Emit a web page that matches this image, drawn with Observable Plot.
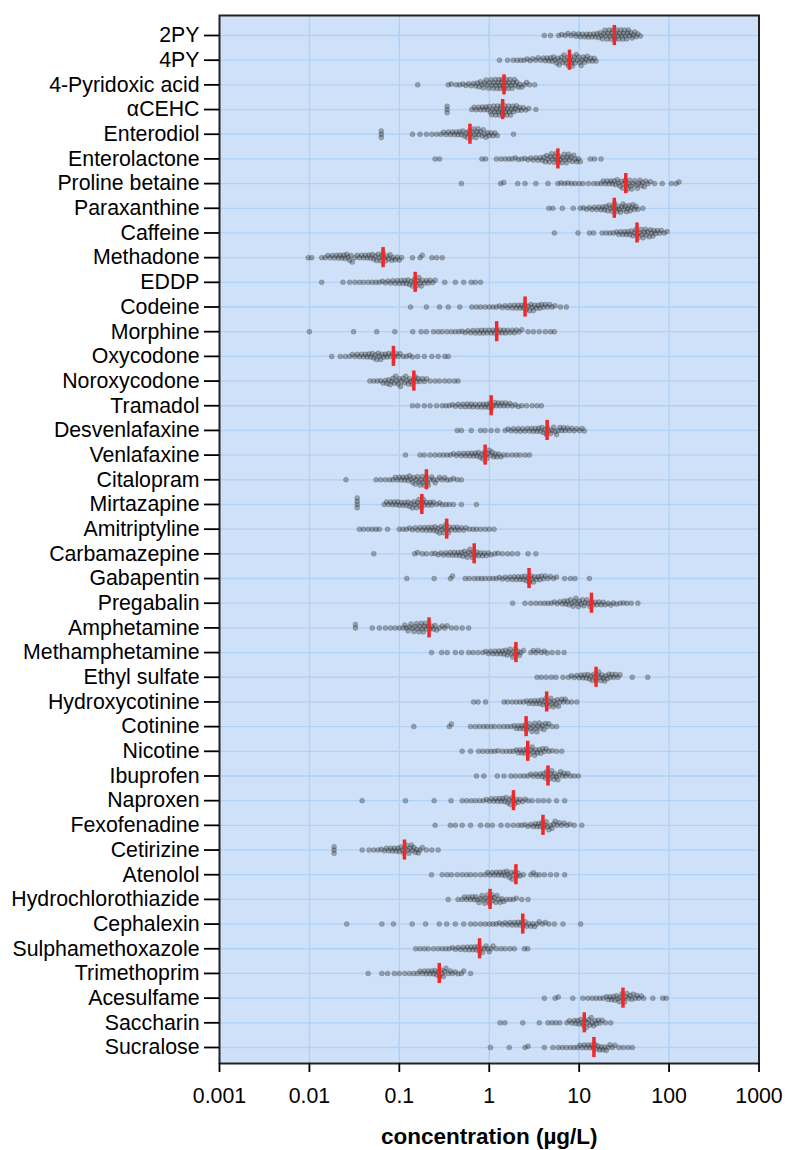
<!DOCTYPE html>
<html>
<head>
<meta charset="utf-8">
<script src="https://cdn.jsdelivr.net/npm/d3@7"></script>
<script src="https://cdn.jsdelivr.net/npm/@observablehq/plot@0.6"></script>
<style>
  html, body { margin: 0; padding: 0; background: #fff; }
  #chart svg { display: block; }
</style>
</head>
<body>
<div id="chart"></div>
<script>
const categories = ["2PY","4PY","4-Pyridoxic acid","αCEHC","Enterodiol","Enterolactone","Proline betaine","Paraxanthine","Caffeine","Methadone","EDDP","Codeine","Morphine","Oxycodone","Noroxycodone","Tramadol","Desvenlafaxine","Venlafaxine","Citalopram","Mirtazapine","Amitriptyline","Carbamazepine","Gabapentin","Pregabalin","Amphetamine","Methamphetamine","Ethyl sulfate","Hydroxycotinine","Cotinine","Nicotine","Ibuprofen","Naproxen","Fexofenadine","Cetirizine","Atenolol","Hydrochlorothiazide","Cephalexin","Sulphamethoxazole","Trimethoprim","Acesulfame","Saccharin","Sucralose"];

const medians = [24.6, 7.8, 1.46, 1.41, 0.61, 5.8, 33, 24.6, 44, 0.066, 0.15, 2.5, 1.21, 0.086, 0.145, 1.05, 4.4, 0.9, 0.2, 0.178, 0.336, 0.68, 2.77, 13.7, 0.214, 1.98, 15.4, 4.35, 2.57, 2.68, 4.5, 1.86, 3.96, 0.114, 1.98, 1.02, 2.36, 0.78, 0.278, 30.7, 11.4, 14.6];

const xTicks = [0.001, 0.01, 0.1, 1, 10, 100, 1000];
const xTickLabels = ["0.001", "0.01", "0.1", "1", "10", "100", "1000"];

const v2PY = [4.1, 4.8, 5.9, 6.4, 7.0, 7.5, 8.1, 8.7, 9.2, 9.8, 10.3, 10.9, 11.5, 12.1, 12.6, 13.2, 13.9, 14.5, 15.2, 15.8, 16.5, 17.1, 17.7, 18.2, 18.8, 19.3, 19.9, 20.4, 21, 21.5, 22.1, 22.6, 23.2, 23.8, 24.4, 25, 25.6, 26.2, 26.9, 27.6, 28.3, 29, 29.7, 30.4, 31.2, 32, 32.8, 33.6, 34.5, 35.4, 36.4, 37.5, 38.7, 40, 41.5, 43, 45, 48];
const v4PY = [1.3, 1.6, 1.85, 2.05, 2.25, 2.45, 2.65, 2.85, 3.05, 3.3, 3.5, 3.75, 4.0, 4.2, 4.4, 4.6, 4.8, 5.0, 5.2, 5.4, 5.6, 5.8, 6.0, 6.2, 6.4, 6.6, 6.8, 7.0, 7.2, 7.4, 7.6, 7.8, 8.0, 8.2, 8.4, 8.6, 8.8, 9.0, 9.3, 9.6, 9.9, 10.2, 10.5, 10.8, 11.1, 11.5, 11.9, 12.3, 12.8, 13.4, 14, 14.7, 15.4];
const vPyridoxic = [0.16, 0.35, 0.38, 0.43, 0.47, 0.51, 0.55, 0.59, 0.63, 0.67, 0.71, 0.74, 0.77, 0.8, 0.83, 0.86, 0.89, 0.92, 0.95, 0.98, 1.01, 1.04, 1.07, 1.1, 1.13, 1.16, 1.19, 1.22, 1.25, 1.28, 1.31, 1.34, 1.37, 1.4, 1.43, 1.46, 1.5, 1.54, 1.58, 1.62, 1.66, 1.7, 1.75, 1.8, 1.85, 1.9, 1.96, 2.02, 2.1, 2.2, 2.3, 2.45, 2.6, 2.8, 3.2];
const vCEHC = [0.34, 0.34, 0.34, 0.64, 0.68, 0.72, 0.76, 0.8, 0.84, 0.88, 0.92, 0.96, 1.0, 1.03, 1.06, 1.09, 1.12, 1.15, 1.18, 1.21, 1.24, 1.27, 1.3, 1.33, 1.36, 1.39, 1.42, 1.45, 1.48, 1.52, 1.56, 1.6, 1.64, 1.68, 1.72, 1.77, 1.82, 1.87, 1.93, 2.0, 2.08, 2.17, 2.27, 2.4, 2.55, 2.75, 3.3];
const vEnterodiol = [0.063, 0.063, 0.063, 0.14, 0.17, 0.2, 0.23, 0.26, 0.29, 0.31, 0.33, 0.35, 0.37, 0.39, 0.41, 0.43, 0.45, 0.47, 0.49, 0.51, 0.53, 0.55, 0.57, 0.59, 0.61, 0.63, 0.65, 0.67, 0.69, 0.71, 0.73, 0.75, 0.77, 0.8, 0.83, 0.86, 0.89, 0.92, 0.96, 1.0, 1.05, 1.1, 1.16, 1.23, 1.86];
const vEnterolactone = [0.25, 0.28, 0.83, 0.91, 1.2, 1.35, 1.5, 1.65, 1.8, 1.95, 2.1, 2.3, 2.5, 2.7, 2.9, 3.1, 3.3, 3.5, 3.7, 3.9, 4.05, 4.2, 4.35, 4.5, 4.65, 4.8, 4.95, 5.1, 5.25, 5.4, 5.55, 5.7, 5.85, 6.0, 6.2, 6.4, 6.6, 6.8, 7.0, 7.2, 7.4, 7.6, 7.8, 8.1, 8.4, 8.7, 9.0, 9.4, 9.8, 10.3, 13.3, 14.8, 17.5];
const vProline = [0.49, 1.34, 1.45, 2.07, 2.5, 3.3, 4.5, 5.8, 6.3, 6.9, 7.5, 8.2, 9, 10, 11, 12.7, 14.5, 16, 17.5, 18.5, 19.5, 20.5, 21.5, 22.5, 23.5, 24.5, 25.5, 26.5, 27.5, 28.5, 29.5, 30.5, 31.5, 32.5, 33.5, 34.5, 35.5, 36.5, 37.5, 38.5, 40, 41.5, 43, 44.5, 46, 47.5, 49, 51, 53, 55, 58, 62, 69, 84, 106, 120, 129];
const vParaxanthine = [4.6, 5.1, 6.5, 8.6, 10.3, 11.2, 12.1, 13, 13.9, 14.8, 15.7, 16.6, 17.5, 18.3, 19.1, 19.9, 20.7, 21.5, 22.3, 23.1, 23.9, 24.7, 25.5, 26.3, 27.1, 28, 28.9, 29.8, 30.7, 31.6, 32.6, 33.6, 34.7, 35.8, 37, 38.3, 39.7, 41.2, 43, 45, 51];
const vCaffeine = [5.3, 9.7, 13, 14.5, 18, 20, 22, 24, 26, 27.5, 29, 30.5, 32, 33.5, 35, 36.5, 38, 39.5, 41, 42.5, 44, 45.5, 47, 48.5, 50, 51.5, 53, 54.5, 56, 58, 60, 62, 64, 66, 68, 71, 74, 78, 82, 88, 95];
const vMethadone = [0.0097, 0.0106, 0.0137, 0.015, 0.016, 0.017, 0.018, 0.019, 0.02, 0.021, 0.022, 0.023, 0.024, 0.025, 0.026, 0.027, 0.028, 0.029, 0.03, 0.032, 0.034, 0.036, 0.038, 0.04, 0.042, 0.044, 0.046, 0.048, 0.05, 0.052, 0.054, 0.056, 0.058, 0.06, 0.062, 0.064, 0.066, 0.068, 0.07, 0.073, 0.076, 0.079, 0.082, 0.085, 0.09, 0.095, 0.1, 0.106, 0.14, 0.17, 0.18, 0.23, 0.26, 0.3];
const vEDDP = [0.0137, 0.0236, 0.028, 0.032, 0.036, 0.04, 0.045, 0.05, 0.055, 0.06, 0.065, 0.07, 0.075, 0.08, 0.085, 0.09, 0.095, 0.1, 0.105, 0.11, 0.115, 0.12, 0.125, 0.13, 0.135, 0.14, 0.145, 0.15, 0.155, 0.16, 0.165, 0.17, 0.175, 0.18, 0.19, 0.2, 0.21, 0.22, 0.235, 0.25, 0.32, 0.42, 0.52, 0.63, 0.7, 0.8];
const vCodeine = [0.133, 0.2, 0.28, 0.35, 0.47, 0.64, 0.72, 0.8, 0.9, 1.0, 1.1, 1.2, 1.3, 1.4, 1.5, 1.6, 1.7, 1.8, 1.9, 2.0, 2.1, 2.2, 2.3, 2.4, 2.5, 2.6, 2.7, 2.8, 2.9, 3.0, 3.1, 3.2, 3.35, 3.5, 3.65, 3.8, 4.0, 4.2, 4.45, 4.7, 5.0, 5.4, 6.2, 7.2];
const vMorphine = [0.01, 0.031, 0.056, 0.089, 0.141, 0.175, 0.2, 0.24, 0.27, 0.3, 0.34, 0.38, 0.42, 0.46, 0.5, 0.54, 0.58, 0.62, 0.66, 0.7, 0.74, 0.78, 0.82, 0.86, 0.9, 0.95, 1.0, 1.05, 1.1, 1.15, 1.2, 1.26, 1.32, 1.38, 1.45, 1.52, 1.6, 1.7, 1.8, 1.9, 2.0, 2.15, 2.3, 2.7, 3.1, 3.6, 4.2, 4.8, 5.3];
const vOxycodone = [0.0177, 0.022, 0.025, 0.028, 0.03, 0.032, 0.034, 0.036, 0.038, 0.04, 0.042, 0.044, 0.046, 0.048, 0.05, 0.052, 0.054, 0.056, 0.058, 0.06, 0.062, 0.064, 0.067, 0.07, 0.073, 0.076, 0.08, 0.084, 0.088, 0.092, 0.097, 0.102, 0.11, 0.12, 0.13, 0.14, 0.16, 0.19, 0.23, 0.27, 0.32, 0.35];
const vNoroxycodone = [0.047, 0.052, 0.057, 0.062, 0.066, 0.07, 0.073, 0.076, 0.079, 0.082, 0.085, 0.088, 0.091, 0.094, 0.097, 0.1, 0.103, 0.106, 0.11, 0.114, 0.118, 0.122, 0.126, 0.13, 0.135, 0.14, 0.145, 0.15, 0.156, 0.162, 0.17, 0.18, 0.19, 0.2, 0.22, 0.25, 0.28, 0.32, 0.36, 0.41, 0.45];
const vTramadol = [0.14, 0.16, 0.19, 0.22, 0.26, 0.3, 0.33, 0.36, 0.39, 0.42, 0.45, 0.48, 0.51, 0.54, 0.57, 0.6, 0.63, 0.66, 0.7, 0.74, 0.78, 0.82, 0.86, 0.9, 0.94, 0.98, 1.02, 1.06, 1.1, 1.15, 1.2, 1.26, 1.32, 1.38, 1.45, 1.52, 1.6, 1.7, 1.8, 1.95, 2.1, 2.3, 2.6, 3.0, 3.4, 3.8];
const vDesvenlafaxine = [0.44, 0.49, 0.63, 0.8, 0.9, 1.05, 1.23, 1.5, 1.62, 1.74, 1.86, 1.98, 2.1, 2.22, 2.35, 2.5, 2.65, 2.8, 2.95, 3.1, 3.25, 3.4, 3.55, 3.7, 3.85, 4.0, 4.15, 4.3, 4.45, 4.6, 4.8, 5.0, 5.2, 5.4, 5.6, 5.85, 6.1, 6.4, 6.7, 7.0, 7.4, 7.8, 8.3, 8.8, 9.4, 10.1, 10.8, 11.4];
const vVenlafaxine = [0.117, 0.17, 0.19, 0.22, 0.25, 0.28, 0.31, 0.34, 0.37, 0.4, 0.43, 0.46, 0.49, 0.52, 0.55, 0.58, 0.61, 0.64, 0.67, 0.7, 0.73, 0.76, 0.79, 0.82, 0.85, 0.88, 0.91, 0.94, 0.97, 1.0, 1.04, 1.08, 1.12, 1.17, 1.22, 1.28, 1.35, 1.45, 1.6, 1.8, 2.0, 2.2, 2.5, 2.8];
const vCitalopram = [0.0255, 0.055, 0.062, 0.07, 0.078, 0.085, 0.09, 0.095, 0.1, 0.105, 0.11, 0.115, 0.12, 0.125, 0.13, 0.135, 0.14, 0.145, 0.15, 0.155, 0.16, 0.165, 0.17, 0.175, 0.18, 0.185, 0.19, 0.195, 0.2, 0.205, 0.21, 0.22, 0.23, 0.24, 0.25, 0.265, 0.28, 0.3, 0.32, 0.34, 0.37, 0.4, 0.44, 0.49];
const vMirtazapine = [0.034, 0.034, 0.034, 0.034, 0.068, 0.072, 0.076, 0.08, 0.084, 0.088, 0.092, 0.096, 0.1, 0.105, 0.11, 0.115, 0.12, 0.125, 0.13, 0.135, 0.14, 0.145, 0.15, 0.155, 0.16, 0.165, 0.17, 0.175, 0.18, 0.185, 0.19, 0.2, 0.21, 0.22, 0.23, 0.24, 0.26, 0.28, 0.3, 0.33, 0.36, 0.4, 0.49, 0.72];
const vAmitriptyline = [0.036, 0.04, 0.045, 0.05, 0.055, 0.06, 0.074, 0.1, 0.11, 0.12, 0.13, 0.14, 0.15, 0.16, 0.17, 0.18, 0.19, 0.2, 0.21, 0.22, 0.23, 0.24, 0.25, 0.26, 0.27, 0.28, 0.29, 0.3, 0.31, 0.32, 0.33, 0.34, 0.35, 0.36, 0.38, 0.4, 0.42, 0.44, 0.46, 0.49, 0.52, 0.55, 0.6, 0.66, 0.72, 0.8, 0.9, 1.0, 1.13];
const vCarbamazepine = [0.052, 0.148, 0.16, 0.18, 0.2, 0.23, 0.25, 0.27, 0.29, 0.31, 0.33, 0.35, 0.37, 0.39, 0.41, 0.43, 0.45, 0.47, 0.49, 0.51, 0.53, 0.55, 0.57, 0.59, 0.61, 0.63, 0.65, 0.67, 0.7, 0.73, 0.76, 0.8, 0.84, 0.88, 0.93, 0.98, 1.05, 1.15, 1.25, 1.4, 1.6, 1.8, 2.07, 2.7, 3.3];
const vGabapentin = [0.121, 0.244, 0.37, 0.39, 0.54, 0.6, 0.68, 0.75, 0.82, 0.9, 1.0, 1.1, 1.2, 1.3, 1.4, 1.5, 1.6, 1.7, 1.8, 1.9, 2.0, 2.1, 2.2, 2.3, 2.4, 2.5, 2.6, 2.7, 2.8, 2.9, 3.0, 3.1, 3.2, 3.35, 3.5, 3.65, 3.8, 4.0, 4.2, 4.5, 4.8, 5.2, 5.6, 6.9, 8.0, 9.0, 13];
const vPregabalin = [1.82, 2.5, 2.9, 3.3, 3.7, 4.1, 4.5, 4.9, 5.3, 5.7, 6.1, 6.5, 6.8, 7.1, 7.4, 7.7, 8.0, 8.3, 8.6, 8.9, 9.2, 9.5, 9.8, 10.1, 10.5, 10.9, 11.3, 11.7, 12.2, 12.7, 13.2, 13.7, 14.3, 15, 15.8, 16.6, 17.5, 18.5, 19.5, 21, 22.5, 24, 26, 28.5, 31, 34, 38, 45];
const vAmphetamine = [0.0325, 0.0325, 0.05, 0.06, 0.07, 0.08, 0.09, 0.1, 0.11, 0.115, 0.12, 0.125, 0.13, 0.135, 0.14, 0.145, 0.15, 0.155, 0.16, 0.165, 0.17, 0.175, 0.18, 0.185, 0.19, 0.195, 0.2, 0.21, 0.22, 0.23, 0.24, 0.25, 0.26, 0.28, 0.3, 0.32, 0.34, 0.38, 0.43, 0.5, 0.59];
const vMethamphetamine = [0.228, 0.295, 0.34, 0.42, 0.49, 0.59, 0.66, 0.75, 0.85, 0.92, 0.98, 1.04, 1.1, 1.16, 1.22, 1.28, 1.34, 1.4, 1.46, 1.52, 1.58, 1.64, 1.7, 1.76, 1.82, 1.88, 1.94, 2.0, 2.08, 2.16, 2.25, 2.4, 2.9, 3.1, 3.3, 3.5, 3.8, 4.1, 4.4, 5.0, 5.8, 6.8];
const vEthylSulfate = [3.4, 3.8, 4.3, 4.9, 5.5, 6.6, 7.6, 8.2, 8.8, 9.4, 10, 10.5, 11, 11.5, 12, 12.5, 13, 13.5, 14, 14.5, 15, 15.5, 16, 16.5, 17, 17.5, 18, 18.6, 19.2, 19.8, 20.5, 21.3, 22.2, 23.2, 24.3, 25.5, 27, 28.5, 39, 58];
const vHydroxycotinine = [0.67, 0.75, 0.91, 1.46, 1.6, 1.8, 2.0, 2.2, 2.4, 2.6, 2.75, 2.9, 3.05, 3.2, 3.35, 3.5, 3.65, 3.8, 3.95, 4.1, 4.25, 4.4, 4.55, 4.7, 4.85, 5.0, 5.15, 5.3, 5.5, 5.7, 5.9, 6.1, 6.4, 6.7, 7.0, 7.4, 8.2, 9.4];
const vCotinine = [0.145, 0.36, 0.38, 0.62, 0.7, 0.78, 0.87, 0.95, 1.05, 1.15, 1.3, 1.45, 1.6, 1.75, 1.9, 2.0, 2.1, 2.2, 2.3, 2.4, 2.5, 2.6, 2.7, 2.8, 2.9, 3.0, 3.1, 3.2, 3.3, 3.4, 3.5, 3.6, 3.75, 3.9, 4.05, 4.2, 4.4, 4.6, 5.0, 5.6];
const vNicotine = [0.5, 0.62, 0.76, 0.85, 0.95, 1.05, 1.15, 1.25, 1.4, 1.55, 1.7, 1.85, 2.0, 2.1, 2.2, 2.3, 2.4, 2.5, 2.6, 2.7, 2.8, 2.9, 3.0, 3.1, 3.2, 3.3, 3.45, 3.6, 3.75, 3.9, 4.1, 4.3, 4.6, 5.0, 5.6, 6.4];
const vIbuprofen = [0.72, 0.87, 1.23, 1.46, 1.74, 1.95, 2.2, 2.45, 2.7, 2.9, 3.1, 3.3, 3.5, 3.7, 3.9, 4.05, 4.2, 4.35, 4.5, 4.65, 4.8, 4.95, 5.1, 5.25, 5.4, 5.6, 5.8, 6.0, 6.2, 6.5, 6.8, 7.1, 7.5, 8.0, 8.8, 9.8];
const vNaproxen = [0.0386, 0.117, 0.244, 0.376, 0.5, 0.56, 0.63, 0.7, 0.78, 0.86, 0.93, 1.0, 1.06, 1.12, 1.18, 1.24, 1.3, 1.36, 1.42, 1.48, 1.54, 1.6, 1.66, 1.72, 1.78, 1.85, 1.92, 2.0, 2.1, 2.2, 2.35, 2.5, 2.7, 3.0, 3.5, 4.0, 4.6, 5.6, 6.9];
const vFexofenadine = [0.25, 0.37, 0.42, 0.5, 0.62, 0.8, 0.95, 1.08, 1.35, 1.6, 1.85, 2.1, 2.3, 2.5, 2.7, 2.9, 3.1, 3.25, 3.4, 3.55, 3.7, 3.85, 4.0, 4.15, 4.3, 4.45, 4.6, 4.8, 5.0, 5.2, 5.4, 5.7, 6.0, 6.4, 6.8, 7.3, 7.9, 8.8, 10.7];
const vCetirizine = [0.0188, 0.0188, 0.0188, 0.0386, 0.046, 0.052, 0.058, 0.063, 0.068, 0.072, 0.076, 0.08, 0.084, 0.088, 0.092, 0.096, 0.1, 0.104, 0.108, 0.112, 0.116, 0.12, 0.124, 0.128, 0.132, 0.136, 0.14, 0.145, 0.15, 0.156, 0.163, 0.17, 0.18, 0.2, 0.23, 0.27];
const vAtenolol = [0.228, 0.3, 0.34, 0.38, 0.44, 0.5, 0.56, 0.62, 0.7, 0.8, 0.9, 0.96, 1.02, 1.08, 1.14, 1.2, 1.26, 1.32, 1.38, 1.44, 1.5, 1.56, 1.62, 1.68, 1.74, 1.8, 1.87, 1.94, 2.02, 2.1, 2.2, 2.4, 2.9, 3.1, 3.3, 3.6, 4.1, 4.8, 5.6, 6.9];
const vHCTZ = [0.35, 0.45, 0.5, 0.53, 0.56, 0.59, 0.62, 0.65, 0.68, 0.71, 0.74, 0.77, 0.8, 0.83, 0.86, 0.89, 0.92, 0.95, 0.98, 1.01, 1.04, 1.07, 1.1, 1.14, 1.18, 1.22, 1.27, 1.32, 1.38, 1.45, 1.55, 1.7, 1.85, 2.0, 2.3, 2.7];
const vCephalexin = [0.026, 0.064, 0.086, 0.139, 0.196, 0.278, 0.336, 0.42, 0.52, 0.62, 0.7, 0.8, 0.9, 1.0, 1.1, 1.2, 1.3, 1.4, 1.5, 1.6, 1.7, 1.8, 1.9, 2.0, 2.1, 2.2, 2.3, 2.4, 2.5, 2.6, 2.75, 2.9, 3.05, 3.2, 3.4, 3.6, 3.9, 4.2, 4.6, 5.3, 6.6, 10.4];
const vSulpha = [0.152, 0.17, 0.19, 0.21, 0.24, 0.27, 0.3, 0.33, 0.36, 0.39, 0.42, 0.45, 0.48, 0.51, 0.54, 0.57, 0.6, 0.63, 0.66, 0.69, 0.72, 0.75, 0.78, 0.81, 0.84, 0.88, 0.92, 0.96, 1.0, 1.05, 1.1, 1.2, 1.35, 1.5, 1.7, 1.9, 2.46, 2.68];
const vTrimethoprim = [0.045, 0.064, 0.074, 0.088, 0.1, 0.115, 0.13, 0.145, 0.16, 0.17, 0.18, 0.19, 0.2, 0.21, 0.22, 0.23, 0.24, 0.25, 0.26, 0.27, 0.28, 0.29, 0.3, 0.31, 0.32, 0.33, 0.35, 0.37, 0.39, 0.42, 0.45, 0.49, 0.52, 0.62];
const vAcesulfame = [4.1, 5.4, 5.85, 8.5, 11, 12.5, 14, 15.5, 17, 18.5, 20, 21, 22, 23, 24, 25, 26, 27, 28, 29, 30, 31, 32, 33, 34, 35.5, 37, 38.5, 40, 42, 44, 46, 49, 52, 66, 85, 93];
const vSaccharin = [1.32, 1.49, 2.36, 3.6, 4.5, 5.0, 5.5, 6.1, 7.3, 7.8, 8.3, 8.8, 9.2, 9.6, 10, 10.4, 10.8, 11.2, 11.6, 12, 12.4, 12.8, 13.2, 13.6, 14, 14.5, 15, 15.6, 16.3, 17.1, 18, 19.6, 22.4];
const vSucralose = [1.03, 1.67, 2.5, 2.7, 4.1, 5.1, 5.85, 6.5, 7.2, 8.0, 8.8, 9.6, 10.2, 10.8, 11.4, 12, 12.6, 13.2, 13.8, 14.4, 15, 15.6, 16.2, 16.9, 17.6, 18.4, 19.2, 20, 21, 22, 23.5, 25, 27.7, 31, 35, 39];

const series = [v2PY, v4PY, vPyridoxic, vCEHC, vEnterodiol, vEnterolactone, vProline, vParaxanthine, vCaffeine, vMethadone, vEDDP, vCodeine, vMorphine, vOxycodone, vNoroxycodone, vTramadol, vDesvenlafaxine, vVenlafaxine, vCitalopram, vMirtazapine, vAmitriptyline, vCarbamazepine, vGabapentin, vPregabalin, vAmphetamine, vMethamphetamine, vEthylSulfate, vHydroxycotinine, vCotinine, vNicotine, vIbuprofen, vNaproxen, vFexofenadine, vCetirizine, vAtenolol, vHCTZ, vCephalexin, vSulpha, vTrimethoprim, vAcesulfame, vSaccharin, vSucralose];

const points = categories.flatMap((cat, i) => series[i].map(v => ({cat, v})));
const medianRows = categories.map((cat, i) => ({cat, m: medians[i]}));
const gridRows = categories.flatMap(cat => xTicks.slice(1, -1).map(t => ({cat, t})));
const firstCat = categories[0], lastCat = categories[categories.length - 1];
const tickLabel = new Map(xTicks.map((t, i) => [t, xTickLabels[i]]));

const bg = "#cfe1f8";
const grid = "#aed2f8";
const extTop = 7.66, extBottom = 3.66;

const chart = Plot.plot({
  width: 785,
  height: 1150,
  marginLeft: 219,
  marginRight: 26.5,
  marginTop: 22.66,
  marginBottom: 90.66,
  style: {fontFamily: "'Liberation Sans', Arial, sans-serif", fontSize: "21.3px", color: "#000", background: "#fff"},
  x: {type: "log", domain: [0.001, 1000]},
  y: {domain: [-1, 1], axis: null},
  fy: {domain: categories, padding: 0, round: false, label: null},
  marks: [
    Plot.frame({fill: bg, facet: "super", insetTop: -extTop, insetBottom: -extBottom}),
    Plot.ruleX(gridRows, {x: "t", fy: "cat", stroke: grid, strokeWidth: 1.3}),
    Plot.ruleX(gridRows.filter(d => d.cat === firstCat), {x: "t", fy: "cat", stroke: grid, strokeWidth: 1.3, insetTop: -extTop}),
    Plot.ruleX(gridRows.filter(d => d.cat === lastCat), {x: "t", fy: "cat", stroke: grid, strokeWidth: 1.3, insetBottom: -extBottom}),
    Plot.ruleY([0], {stroke: grid, strokeWidth: 1.3}),
    Plot.dot(points, Plot.dodgeY({anchor: "middle", padding: -1.7}, {
      x: "v", fy: "cat", r: 2.5,
      fill: "#333", fillOpacity: 0.36, stroke: "#222", strokeOpacity: 0.3, strokeWidth: 0.6
    })),
    Plot.tickX(medianRows, {x: "m", fy: "cat", stroke: "#f02828", strokeWidth: 3.5, insetTop: 2.3, insetBottom: 2.3}),
    Plot.frame({stroke: "#222", strokeWidth: 2, facet: "super", insetTop: -extTop, insetBottom: -extBottom}),
    Plot.axisFy({anchor: "left", tickSize: 15, tickPadding: 5, strokeWidth: 1.8, label: null}),
    Plot.axisX({ticks: xTicks, tickFormat: d => tickLabel.get(d), tickSize: 9, tickPadding: 15, strokeWidth: 1.8, dy: extBottom, label: null}),
    Plot.text(["concentration (µg/L)"], {facet: "super", frameAnchor: "bottom", dy: 68, lineAnchor: "top", fontWeight: "bold", fontSize: 22.5})
  ]
});
document.getElementById("chart").append(chart);
</script>
</body>
</html>
